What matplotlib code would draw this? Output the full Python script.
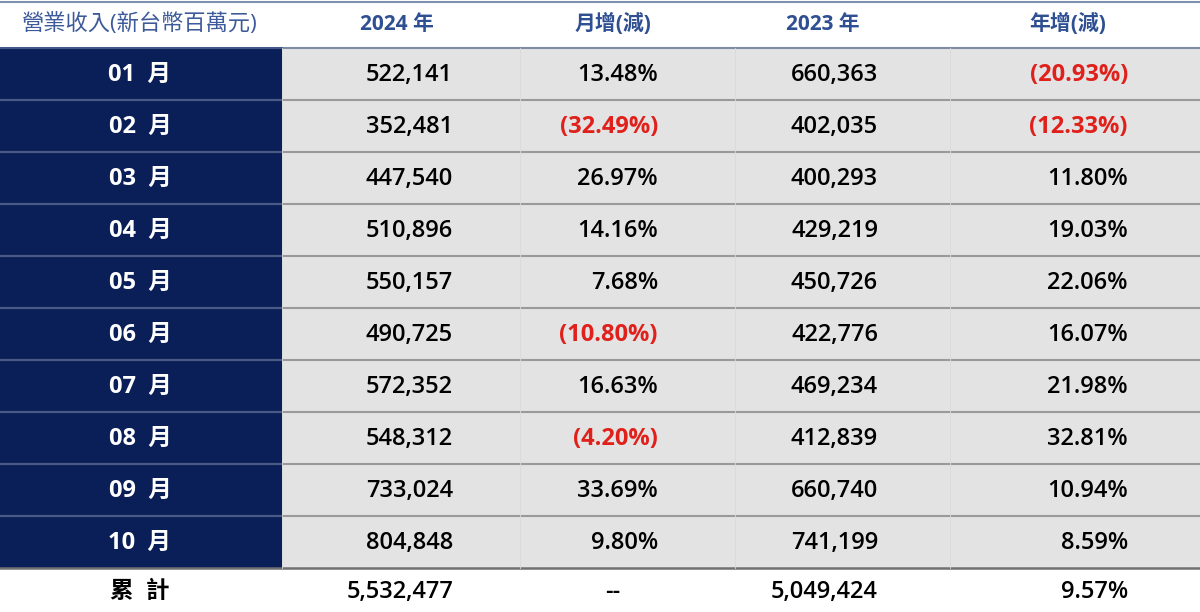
import matplotlib
matplotlib.use("Agg")
import matplotlib.pyplot as plt
from matplotlib.patches import Rectangle

plt.rcParams['font.family'] = ['Open Sans', 'Noto Sans CJK TC', 'DejaVu Sans']

headers = ["營業收入(新台幣百萬元)", "2024 年", "月增(減)", "2023 年", "年增(減)"]
months = ["01  月", "02  月", "03  月", "04  月", "05  月", "06  月", "07  月", "08  月", "09  月", "10  月"]
rev2024 = ["522,141", "352,481", "447,540", "510,896", "550,157", "490,725", "572,352", "548,312", "733,024", "804,848"]
mom = ["13.48%", "(32.49%)", "26.97%", "14.16%", "7.68%", "(10.80%)", "16.63%", "(4.20%)", "33.69%", "9.80%"]
rev2023 = ["660,363", "402,035", "400,293", "429,219", "450,726", "422,776", "469,234", "412,839", "660,740", "741,199"]
yoy = ["(20.93%)", "(12.33%)", "11.80%", "19.03%", "22.06%", "16.07%", "21.98%", "32.81%", "10.94%", "8.59%"]
total = ["累  計", "5,532,477", "--", "5,049,424", "9.57%"]

fig = plt.figure(figsize=(12, 6.12), dpi=100)
ax = fig.add_axes([0, 0, 1, 1])
ax.set_xlim(0, 1200)
ax.set_ylim(612, 0)
ax.axis('off')

navy = "#0a1e58"
grey = "#e3e3e3"
red = "#e0201b"
hdr_col = "#2f4f93"

header_x = [140, 397, 613, 823, 1068]
right_x = [None, 453, 658, 878, 1128]
for k, (x, h) in enumerate(zip(header_x, headers)):
    ax.text(x, 24, h, ha='center', va='center', fontsize=16 if k == 0 else 15,
            color="#3d5a9a" if k == 0 else hdr_col,
            fontweight='normal' if k == 0 else 'bold')
ax.plot([0, 1200], [2, 2], color="#8090b0", lw=1.5)

row_h = 52
top = 48
for i in range(len(months)):
    y0 = top + i * row_h
    yc = y0 + row_h / 2
    ax.add_patch(Rectangle((0, y0), 282, row_h, color=navy, lw=0))
    ax.add_patch(Rectangle((282, y0), 918, row_h, color=grey, lw=0))
    ax.text(140, yc + 1, months[i], ha='center', va='center', fontsize=17,
            color='white', fontweight='bold')
    vals = [rev2024[i], mom[i], rev2023[i], yoy[i]]
    for j, v in enumerate(vals):
        c = red if v.startswith('(') else 'black'
        ax.text(right_x[j + 1], yc + 1, v, ha='right', va='center', fontsize=17,
                color=c, fontweight='bold' if c == red else 'semibold')
    ax.plot([0, 1200], [y0, y0], color="#7f8aa3" if i == 0 else "#9a9a9a", lw=1.5)
    ax.plot([0, 282], [y0, y0], color="#3a4f85", lw=1.2)
ybot = top + len(months) * row_h
ax.plot([0, 1200], [ybot, ybot], color="#707070", lw=1.8)
for x in [282, 520, 735, 950]:
    ax.plot([x, x], [top, ybot], color="#dadada", lw=0.6)

yc = (ybot + 612) / 2
ax.text(140, yc + 2, total[0], ha='center', va='center', fontsize=17, fontweight='bold')
for j in range(1, 5):
    if total[j] == "--":
        ax.text(613, yc + 2, total[j], ha='center', va='center', fontsize=17, fontweight='semibold')
    else:
        ax.text(right_x[j], yc + 2, total[j], ha='right', va='center', fontsize=17, fontweight='semibold')

fig.savefig("out.png", dpi=100)
